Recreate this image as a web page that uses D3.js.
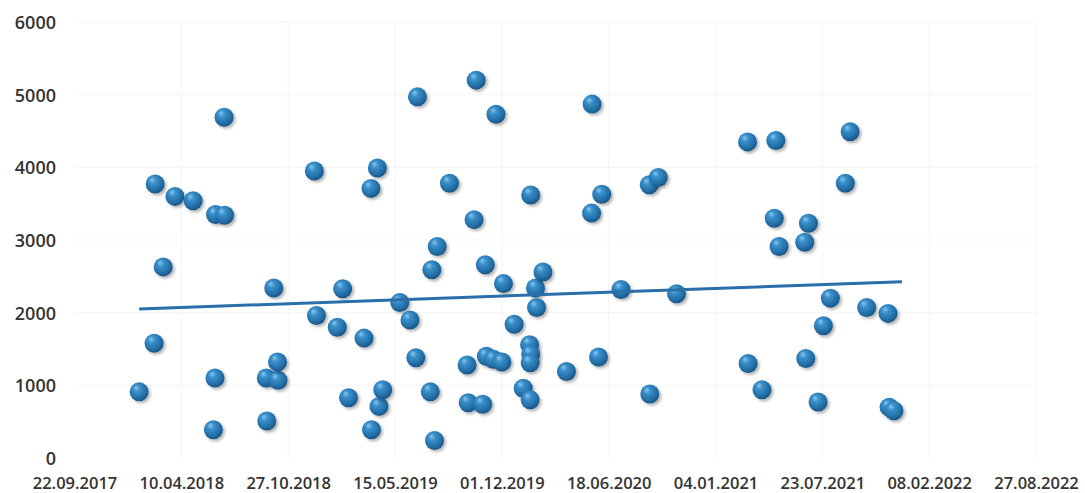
<!DOCTYPE html>
<html><head><meta charset="utf-8">
<script src="https://cdn.jsdelivr.net/npm/d3@7"></script>
<style>
html,body{margin:0;padding:0;background:#fff}
svg{display:block}
</style>
</head><body>
<svg id="chart" width="1085" height="493"></svg>
<script>
// ---- data ----
const dates = [
"21.01.2018","20.02.2018","18.02.2018","07.03.2018","29.03.2018","02.05.2018","13.06.2018","30.06.2018","29.06.2018","12.06.2018",
"09.06.2018","17.09.2018","16.09.2018","08.10.2018","07.10.2018","30.09.2018","15.12.2018","19.12.2018","27.01.2019","06.02.2019",
"17.02.2019","18.03.2019","01.04.2019","31.03.2019","12.04.2019","15.04.2019","22.04.2019","24.05.2019","12.06.2019","23.06.2019",
"26.06.2019","20.07.2019","23.07.2019","28.07.2019","02.08.2019","25.08.2019","27.09.2019","29.09.2019","10.10.2019","14.10.2019",
"02.11.2019","26.10.2019","15.11.2019","01.12.2019","20.11.2019","04.12.2019","31.10.2019","24.12.2019","10.01.2020","23.01.2020",
"22.01.2020","24.01.2020","23.01.2020","02.02.2020","04.02.2020","24.01.2020","16.02.2020","31.03.2020","17.05.2020","18.05.2020",
"30.05.2020","05.06.2020","11.07.2020","03.09.2020","02.09.2020","19.09.2020","23.10.2020","05.03.2021","27.04.2021","24.04.2021",
"03.05.2021","06.03.2021","01.04.2021","27.06.2021","20.06.2021","22.06.2021","07.08.2021","25.07.2021","15.07.2021","13.09.2021",
"04.09.2021","14.10.2021","23.11.2021","25.11.2021","04.12.2021"
];
const values = [
910,3770,1580,2630,3600,3540,3350,3340,4690,1100,
390,510,1100,1070,1320,2340,3950,1960,1800,2330,
830,1650,390,3710,3990,710,940,2140,1900,1380,
4970,910,2590,240,2910,3780,1280,760,3280,5200,
1400,740,1360,1320,4730,2400,2660,1840,960,800,
1560,1430,1310,2340,2070,3620,2560,1190,3370,4870,
1390,3630,2320,880,3760,3860,2260,4350,4370,3300,
2910,1300,940,3230,2970,1370,2200,1820,770,4490,
3780,2070,1990,700,650
];
// linear trend line as drawn in the picture (start / end)
const trendDates  = ["21.01.2018","19.12.2021"];
const trendValues = [2050, 2425];

const xTickLabels = ["22.09.2017","10.04.2018","27.10.2018","15.05.2019","01.12.2019",
                     "18.06.2020","04.01.2021","23.07.2021","08.02.2022","27.08.2022"];
const yTickValues = [0,1000,2000,3000,4000,5000,6000];

// ---- chart ----
const parse = d3.timeParse("%d.%m.%Y");
const fmt = d3.timeFormat("%d.%m.%Y");
const points = dates.map((d,i)=>({date:parse(d), value:values[i]}));
const trend = trendDates.map((d,i)=>({date:parse(d), value:trendValues[i]}));
const xTicks = xTickLabels.map(parse);

const svg = d3.select("#chart");
const x = d3.scaleTime().domain([xTicks[0], xTicks[xTicks.length-1]]).range([74.5,1036]);
const y = d3.scaleLinear().domain([0,6000]).range([458,22]);

const defs = svg.append("defs");
const grad = defs.append("radialGradient").attr("id","sphere")
  .attr("cx","42%").attr("cy","38%").attr("r","62%").attr("fx","34%").attr("fy","28%");
grad.append("stop").attr("offset","0%").attr("stop-color","#86c6ec");
grad.append("stop").attr("offset","30%").attr("stop-color","#3a8fca");
grad.append("stop").attr("offset","75%").attr("stop-color","#236fa8");
grad.append("stop").attr("offset","100%").attr("stop-color","#1a5686");
const f = defs.append("filter").attr("id","shadow").attr("x","-50%").attr("y","-50%").attr("width","200%").attr("height","200%");
f.append("feGaussianBlur").attr("in","SourceAlpha").attr("stdDeviation",1.6).attr("result","b");
f.append("feOffset").attr("in","b").attr("dx",1.5).attr("dy",2).attr("result","o");
f.append("feComponentTransfer").attr("in","o").attr("result","s")
  .append("feFuncA").attr("type","linear").attr("slope",0.3);
const fm = f.append("feMerge");
fm.append("feMergeNode").attr("in","s");
fm.append("feMergeNode").attr("in","SourceGraphic");

// very faint gridlines
const grid = svg.append("g").attr("stroke","#f5f5f5").attr("stroke-width",1);
grid.selectAll("line.h").data(yTickValues.filter(v=>v>0)).join("line")
  .attr("x1",x.range()[0]).attr("x2",x.range()[1])
  .attr("y1",d=>y(d)).attr("y2",d=>y(d));
grid.selectAll("line.v").data(xTicks.slice(1)).join("line")
  .attr("x1",d=>x(d)).attr("x2",d=>x(d))
  .attr("y1",y(6000)).attr("y2",y(0));

// axes
const yAxis = svg.append("g").attr("transform","translate(56,0)")
  .call(d3.axisLeft(y).tickValues(yTickValues).tickFormat(d3.format("d")).tickSize(0).tickPadding(0));
yAxis.select(".domain").remove();
yAxis.selectAll("text").attr("font-family","'Open Sans', sans-serif").attr("font-size",18)
  .attr("font-weight",600).attr("fill","#333").attr("dy","0.36em");

const xAxis = svg.append("g").attr("transform","translate(0,458)")
  .call(d3.axisBottom(x).tickValues(xTicks).tickFormat(fmt).tickSize(0).tickPadding(19));
xAxis.select(".domain").remove();
xAxis.selectAll("text").attr("font-family","'Open Sans', sans-serif").attr("font-size",16.5)
  .attr("font-weight",600).attr("fill","#333");

// points
svg.append("g").selectAll("circle").data(points).join("circle")
  .attr("cx",d=>x(d.date)).attr("cy",d=>y(d.value)).attr("r",9.5)
  .attr("fill","url(#sphere)").attr("filter","url(#shadow)");

// linear trend line
svg.append("path").datum(trend)
  .attr("d", d3.line().x(d=>x(d.date)).y(d=>y(d.value)))
  .attr("fill","none").attr("stroke","#2b6fa9").attr("stroke-width",3);
</script>
</body></html>
